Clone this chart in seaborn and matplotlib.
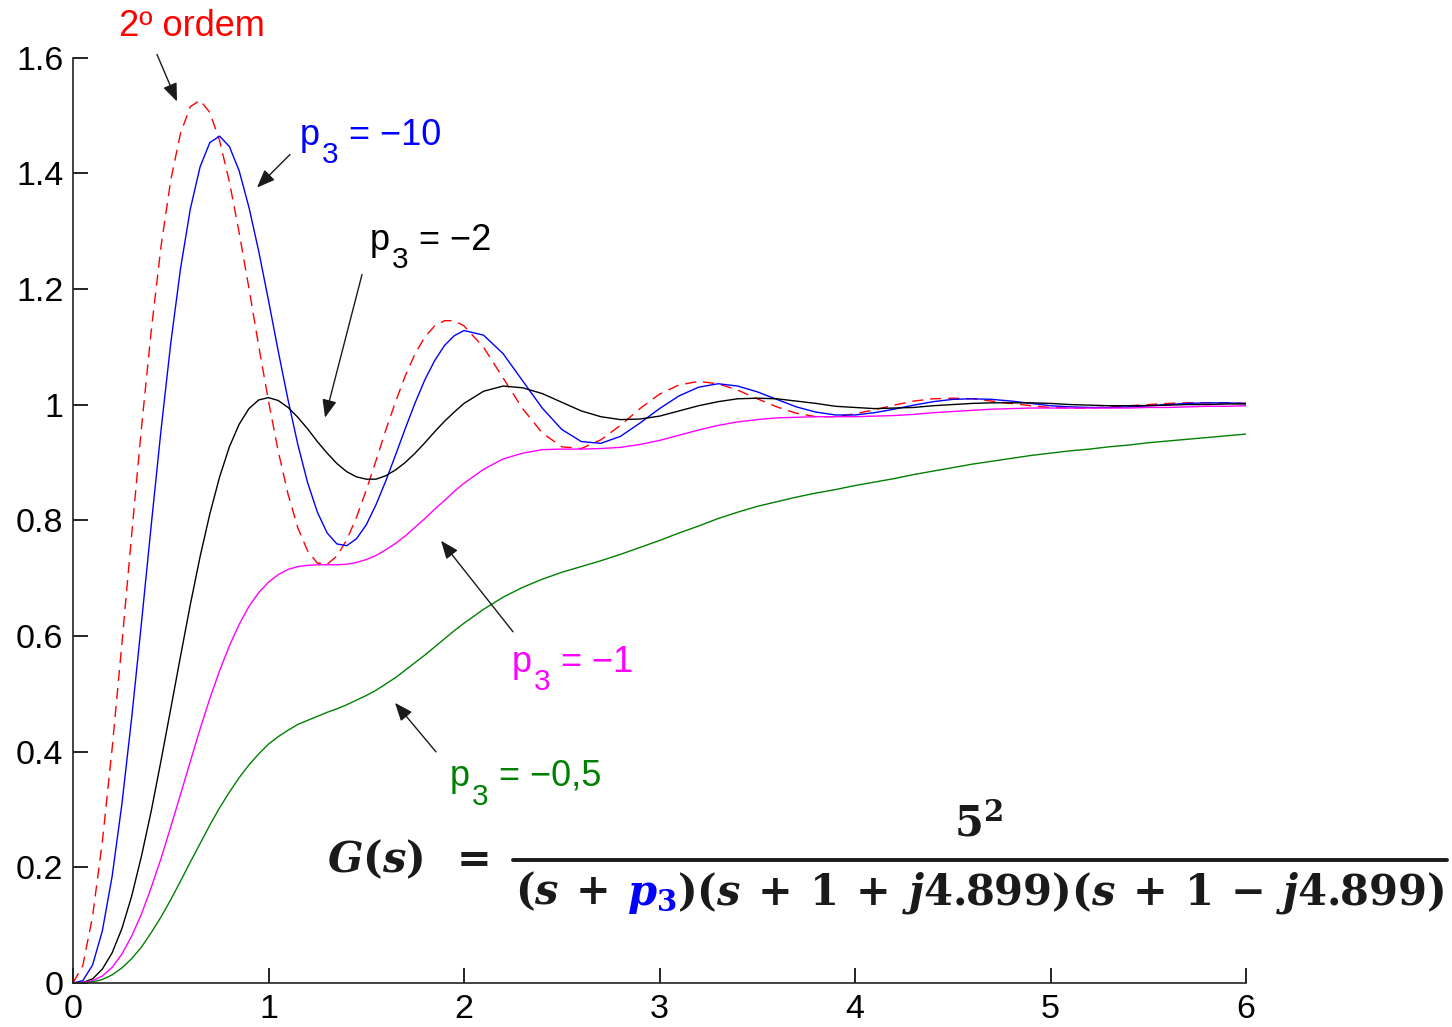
import matplotlib
matplotlib.use("Agg")
import matplotlib.pyplot as plt
from matplotlib.lines import Line2D
from matplotlib.offsetbox import TextArea, HPacker, AnnotationBbox
import pandas as pd
import seaborn as sns

# time axis (s)
t = [0.00, 0.05, 0.10, 0.15, 0.20, 0.25, 0.30, 0.35, 0.40, 0.45,
     0.50, 0.55, 0.60, 0.65, 0.70, 0.75, 0.80, 0.85, 0.90, 0.95,
     1.00, 1.05, 1.10, 1.15, 1.20, 1.25, 1.30, 1.35, 1.40, 1.45,
     1.50, 1.55, 1.60, 1.65, 1.70, 1.75, 1.80, 1.85, 1.90, 1.95,
     2.00, 2.1, 2.2, 2.3, 2.4, 2.5, 2.6, 2.7, 2.8, 2.9,
     3.0, 3.1, 3.2, 3.3, 3.4, 3.5, 3.6, 3.7, 3.8, 3.9,
     4.0, 4.1, 4.2, 4.3, 4.4, 4.5, 4.6, 4.7, 4.8, 4.9,
     5.0, 5.1, 5.2, 5.3, 5.4, 5.5, 5.6, 5.7, 5.8, 5.9, 6.0]

# step responses
second_order = [0.000, 0.030, 0.115, 0.244, 0.405, 0.586, 0.775, 0.959, 1.127, 1.273,
                1.388, 1.469, 1.515, 1.526, 1.505, 1.456, 1.385, 1.297, 1.201, 1.101,
                1.006, 0.919, 0.845, 0.787, 0.747, 0.726, 0.724, 0.738, 0.766, 0.805,
                0.852, 0.903, 0.956, 1.005, 1.050, 1.088, 1.117, 1.136, 1.145, 1.145,
                1.136, 1.099, 1.046, 0.993, 0.951, 0.927, 0.924, 0.939, 0.964, 0.993,
                1.018, 1.034, 1.040, 1.036, 1.025, 1.010, 0.996, 0.985, 0.979, 0.979,
                0.984, 0.991, 0.999, 1.006, 1.010, 1.011, 1.010, 1.006, 1.002, 0.998,
                0.995, 0.994, 0.994, 0.996, 0.998, 1.000, 1.002, 1.003, 1.003, 1.003, 1.002]

p3_m10 = [0.000, 0.004, 0.031, 0.090, 0.184, 0.309, 0.458, 0.622, 0.791, 0.955,
          1.106, 1.235, 1.338, 1.411, 1.453, 1.464, 1.446, 1.404, 1.341, 1.265,
          1.180, 1.092, 1.008, 0.931, 0.865, 0.814, 0.778, 0.759, 0.756, 0.768,
          0.792, 0.827, 0.868, 0.913, 0.959, 1.003, 1.043, 1.076, 1.102, 1.119,
          1.128, 1.120, 1.088, 1.041, 0.994, 0.957, 0.936, 0.933, 0.945, 0.968,
          0.993, 1.015, 1.030, 1.036, 1.032, 1.022, 1.009, 0.996, 0.987, 0.982,
          0.982, 0.986, 0.992, 0.999, 1.005, 1.009, 1.010, 1.009, 1.006, 1.002,
          0.998, 0.996, 0.995, 0.995, 0.996, 0.998, 1.000, 1.002, 1.003, 1.003, 1.002]

p3_m2 = [0.000, 0.001, 0.007, 0.024, 0.052, 0.094, 0.150, 0.219, 0.297, 0.384,
         0.474, 0.565, 0.654, 0.737, 0.811, 0.875, 0.927, 0.966, 0.993, 1.008,
         1.012, 1.007, 0.995, 0.978, 0.958, 0.936, 0.916, 0.898, 0.884, 0.875,
         0.871, 0.871, 0.877, 0.887, 0.900, 0.916, 0.934, 0.953, 0.971, 0.987,
         1.002, 1.023, 1.032, 1.029, 1.019, 1.004, 0.989, 0.979, 0.974, 0.975,
         0.980, 0.989, 0.998, 1.005, 1.010, 1.011, 1.010, 1.006, 1.002, 0.997,
         0.995, 0.993, 0.994, 0.995, 0.998, 1.000, 1.002, 1.003, 1.003, 1.003,
         1.002, 1.000, 0.999, 0.998, 0.998, 0.998, 0.999, 1.000, 1.000, 1.001, 1.001]

p3_m1 = [0.000, 0.001, 0.004, 0.012, 0.027, 0.050, 0.081, 0.119, 0.165, 0.215,
         0.270, 0.326, 0.383, 0.439, 0.492, 0.540, 0.583, 0.620, 0.651, 0.675,
         0.693, 0.706, 0.715, 0.720, 0.722, 0.723, 0.723, 0.723, 0.724, 0.727,
         0.732, 0.739, 0.749, 0.760, 0.773, 0.788, 0.803, 0.819, 0.834, 0.850,
         0.864, 0.888, 0.906, 0.916, 0.922, 0.923, 0.923, 0.924, 0.926, 0.931,
         0.938, 0.947, 0.956, 0.964, 0.970, 0.974, 0.977, 0.978, 0.979, 0.979,
         0.979, 0.980, 0.981, 0.983, 0.986, 0.988, 0.990, 0.992, 0.993, 0.994,
         0.994, 0.994, 0.994, 0.994, 0.994, 0.995, 0.995, 0.996, 0.997, 0.997, 0.998]

p3_m05 = [0.000, 0.000, 0.002, 0.006, 0.014, 0.026, 0.042, 0.062, 0.087, 0.114,
          0.144, 0.176, 0.209, 0.241, 0.273, 0.303, 0.330, 0.355, 0.377, 0.396,
          0.413, 0.426, 0.437, 0.447, 0.454, 0.461, 0.468, 0.474, 0.481, 0.489,
          0.497, 0.506, 0.517, 0.528, 0.541, 0.554, 0.567, 0.581, 0.595, 0.609,
          0.622, 0.646, 0.667, 0.684, 0.698, 0.710, 0.720, 0.730, 0.741, 0.753,
          0.765, 0.778, 0.790, 0.803, 0.814, 0.824, 0.832, 0.840, 0.847, 0.853,
          0.860, 0.866, 0.872, 0.879, 0.885, 0.891, 0.897, 0.902, 0.907, 0.912,
          0.916, 0.920, 0.923, 0.927, 0.930, 0.934, 0.937, 0.940, 0.943, 0.946, 0.949]

x_ticks = [0, 1, 2, 3, 4, 5, 6]
y_ticks = [0, 0.2, 0.4, 0.6, 0.8, 1.0, 1.2, 1.4, 1.6]
y_tick_labels = ["0", "0.2", "0.4", "0.6", "0.8", "1", "1.2", "1.4", "1.6"]

curves = ["2a ordem", "p3=-10", "p3=-2", "p3=-1", "p3=-0.5"]
series = [second_order, p3_m10, p3_m2, p3_m1, p3_m05]
palette = {"2a ordem": "#ff0000", "p3=-10": "#0000ff", "p3=-2": "#000000",
           "p3=-1": "#ff00ff", "p3=-0.5": "#008000"}
dashes = {"2a ordem": (8, 5), "p3=-10": "", "p3=-2": "",
          "p3=-1": "", "p3=-0.5": ""}

df = pd.concat([pd.DataFrame({"t": t, "y": s, "curve": c})
                for c, s in zip(curves, series)], ignore_index=True)

sns.set_theme(style="ticks")
plt.rcParams["font.family"] = ["Liberation Sans", "DejaVu Sans"]

W, H = 1452, 1027
fig = plt.figure(figsize=(W / 100, H / 100), dpi=100)
ax = fig.add_axes([73 / W, 44 / H, 1173 / W, 925.5 / H])

sns.lineplot(data=df, x="t", y="y", hue="curve", style="curve",
             hue_order=curves, style_order=curves,
             palette=palette, dashes=dashes, estimator=None, sort=False,
             legend=False, linewidth=1.0, ax=ax)

ax.set_xlim(0, 6)
ax.set_ylim(0, 1.6)
ax.set_xticks(x_ticks)
ax.set_xticklabels([str(v) for v in x_ticks])
ax.set_yticks(y_ticks)
ax.set_yticklabels(y_tick_labels)
ax.set_xlabel("")
ax.set_ylabel("")
ax.tick_params(direction="in", length=11, width=1.2, labelsize=24.5,
               colors="#000000")
ax.tick_params(axis="y", pad=7)
ax.tick_params(axis="x", pad=8)
for side in ("top", "right"):
    ax.spines[side].set_visible(False)
for side in ("left", "bottom"):
    ax.spines[side].set_linewidth(1.2)
    ax.spines[side].set_color("#222222")


def px(xp, yp):
    """convert a canvas pixel position to data coordinates"""
    return ((xp - 73) / 195.5, (983 - yp) / 578.1)


arrow_kw = dict(arrowstyle="-|>,head_length=0.55,head_width=0.22",
                color="k", lw=1.0, mutation_scale=20, shrinkA=0, shrinkB=0)
LBL = 26


def arrow(tail, head):
    ax.annotate("", xy=px(*head), xytext=px(*tail), annotation_clip=False,
                arrowprops=arrow_kw)


def pole_label(pos, value, color):
    """'p' with a lowered subscript 3, followed by '= value'"""
    p = ax.text(*px(*pos), "p", color=color, fontsize=LBL, ha="left",
                va="baseline", clip_on=False)
    sub = ax.annotate("3", xy=(1, 0), xycoords=p, xytext=(1.5, -12),
                      textcoords="offset points", fontsize=LBL * 0.82,
                      color=color, ha="left", va="bottom",
                      annotation_clip=False)
    ax.annotate(" = " + value, xy=(1, 0), xycoords=(sub, p),
                xytext=(0, 0), textcoords="offset points", fontsize=LBL,
                color=color, ha="left", va="bottom", annotation_clip=False)


ax.text(*px(119, 37), "2º ordem", color="#ff0000", fontsize=LBL,
        ha="left", va="baseline", clip_on=False)
arrow((157, 55), (177, 102))

pole_label((300, 145), "\u221210", "#0000ff")
arrow((290, 155), (257, 188))
pole_label((370, 250), "\u22122", "#000000")
arrow((362, 275), (325, 418))
pole_label((512, 672), "\u22121", "#ff00ff")
arrow((513, 632), (441, 541))
pole_label((450, 786), "\u22120,5", "#008000")
arrow((436, 752), (395, 703))

# transfer function
ink = "#1a1a1a"
fsz = 30
mprops = dict(fontsize=fsz, color=ink, math_fontfamily="dejavuserif")
ax.annotate(r"$\mathbfit{G}\mathbf{(}\mathbfit{s}\mathbf{)}\hspace{0.6}\mathbf{=}$",
            xy=(408, H - 860), xycoords="figure pixels", ha="center",
            va="center", annotation_clip=False, **mprops)
ax.annotate(r"$\mathbf{5}^{\mathbf{2}}$", xy=(978, H - 825),
            xycoords="figure pixels", ha="center", va="center",
            annotation_clip=False, **mprops)
fig.add_artist(Line2D([513 / W, 1447 / W], [1 - 859.5 / H] * 2,
                      lw=2.8, color=ink, transform=fig.transFigure))

g = r"\hspace{0.44}"
d1 = TextArea(r"$\mathbf{(}\mathbfit{s}" + g + r"\mathbf{+}$", textprops=mprops)
d2 = TextArea(r"$\mathbfit{p}_{\mathbf{3}}$",
              textprops=dict(mprops, color="#0000ff"))
d3 = TextArea(r"$\mathbf{)(}\mathbfit{s}" + g + r"\mathbf{+}" + g + r"\mathbf{1}"
              + g + r"\mathbf{+}" + g + r"\mathbfit{j}\mathbf{4.899)(}\mathbfit{s}"
              + g + r"\mathbf{+}" + g + r"\mathbf{1}" + g + r"\mathbf{-}" + g
              + r"\mathbfit{j}\mathbf{4.899)}$", textprops=mprops)
head = HPacker(children=[d1, d2], align="baseline", pad=0, sep=14)
den = HPacker(children=[head, d3], align="baseline", pad=0, sep=0)
ab = AnnotationBbox(den, (980, H - 893), xycoords="figure pixels",
                    box_alignment=(0.5, 0.5), frameon=False, pad=0,
                    annotation_clip=False)
fig.add_artist(ab)

fig.savefig("out.png", dpi=100)
